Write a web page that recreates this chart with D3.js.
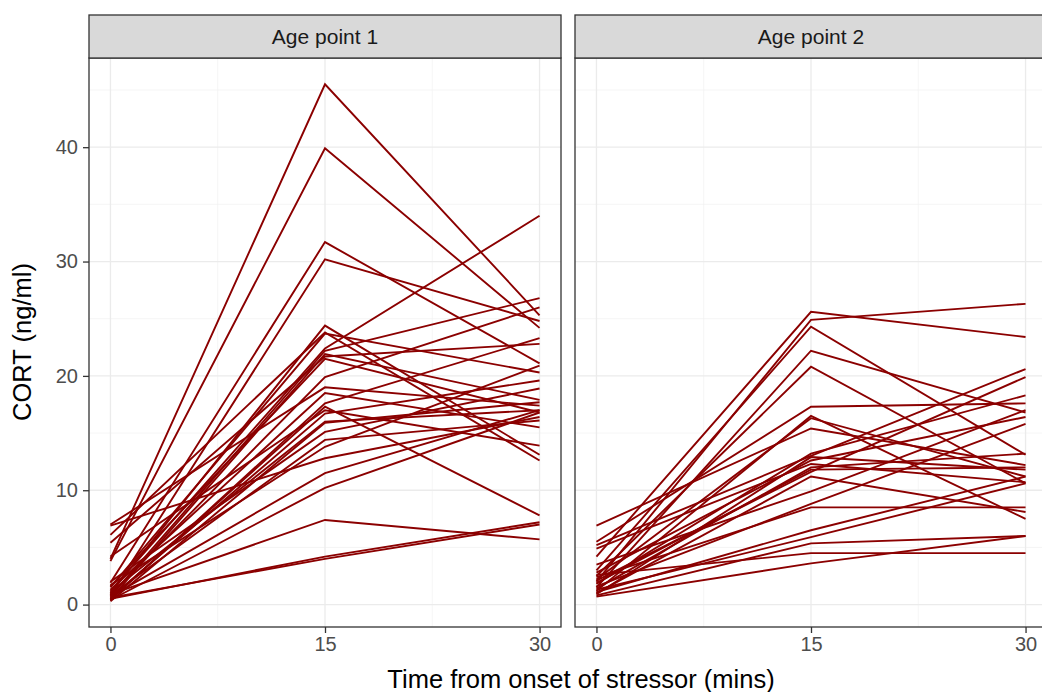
<!DOCTYPE html>
<html>
<head>
  <meta charset="utf-8">
  <title>CORT by age point</title>
  <style>
    body { margin: 0; background: #fff; }
    text { font-family: "Liberation Sans", Arial, sans-serif; }
    .grid-major { stroke: #ebebeb; stroke-width: 1.3; }
    .grid-minor { stroke: #f0f0f0; stroke-width: 0.7; }
  </style>
</head>
<body>
  <div id="chart-container"></div>

  <script src="https://d3js.org/d3.v7.min.js"></script>
  <script>
// sampling times (x) and facet labels
var times = [0, 15, 30];
var panelLabels = ["Age point 1", "Age point 2"];
var yTicks = [0, 10, 20, 30, 40];
var xTicks = [0, 15, 30];

// Age point 1: CORT at 0, 15, 30 mins (one entry per animal)
var age1_t0  = [4.0, 3.8, 1.9, 0.8, 1.0, 6.1, 1.5, 1.2, 0.7, 0.5, 5.4, 1.6, 0.9, 7.0, 1.3, 0.4, 4.2, 0.6, 1.1, 0.3, 2.0, 0.8, 1.7, 0.5, 0.7, 0.4, 0.9, 0.5, 0.6, 6.9];
var age1_t15 = [45.5, 39.9, 31.7, 30.2, 24.4, 23.8, 23.7, 22.4, 22.2, 21.9, 21.7, 21.5, 19.9, 19.0, 18.5, 17.6, 17.0, 16.7, 16.0, 15.9, 15.1, 14.4, 13.8, 17.3, 11.5, 10.2, 7.4, 4.2, 4.0, 12.8];
var age1_t30 = [25.3, 24.2, 21.1, 24.8, 13.1, 12.6, 20.3, 34.0, 26.8, 17.9, 22.8, 16.8, 26.0, 17.4, 15.5, 23.3, 13.9, 19.6, 17.0, 17.7, 18.9, 16.1, 20.9, 7.8, 17.0, 16.8, 5.7, 7.2, 7.0, 16.4];

// Age point 2
var age2_t0  = [4.2, 2.0, 3.0, 1.5, 2.5, 5.5, 1.2, 2.2, 6.9, 1.8, 0.9, 2.8, 4.9, 1.4, 2.1, 1.0, 3.5, 1.6, 2.4, 1.1, 1.3, 0.8, 0.7, 2.6, 5.2, 1.9];
var age2_t15 = [25.6, 24.9, 24.3, 22.2, 20.8, 17.3, 16.5, 16.3, 15.4, 13.2, 12.9, 12.6, 12.3, 12.0, 11.6, 11.2, 9.9, 8.8, 8.5, 6.5, 5.9, 5.35, 3.6, 4.5, 13.0, 11.8];
var age2_t30 = [23.4, 26.3, 13.1, 16.8, 10.6, 17.6, 7.5, 11.2, 12.2, 18.3, 11.8, 16.4, 10.7, 13.2, 19.9, 8.1, 17.0, 15.8, 8.5, 11.2, 10.6, 6.0, 6.0, 4.5, 20.6, 12.0];

var panelData = [[age1_t0, age1_t15, age1_t30], [age2_t0, age2_t15, age2_t30]];

var width = 1042, height = 692;
var panelTop = 58, panelBottom = 627;
var stripTop = 15;
var panelLeft = [89, 575];
var panelWidth = 472;

var svg = d3.select("#chart-container")
  .append("svg")
  .attr("width", width)
  .attr("height", height);

// shared y scale, ggplot style 5% expansion
var yScale = d3.scaleLinear()
  .domain([-1.96, 47.8])
  .range([panelBottom, panelTop]);

panelData.forEach(function(series, p) {
  var xScale = d3.scaleLinear()
    .domain([-1.5, 31.5])
    .range([panelLeft[p], panelLeft[p] + panelWidth]);

  var g = svg.append("g");

  g.append("clipPath").attr("id", "clip" + p)
    .append("rect")
    .attr("x", panelLeft[p]).attr("y", panelTop)
    .attr("width", panelWidth).attr("height", panelBottom - panelTop);

  var grid = g.append("g").attr("clip-path", "url(#clip" + p + ")");

  // minor grid
  [5, 15, 25, 35, 45].forEach(function(v) {
    grid.append("line").attr("class", "grid-minor")
      .attr("x1", panelLeft[p]).attr("x2", panelLeft[p] + panelWidth)
      .attr("y1", yScale(v)).attr("y2", yScale(v));
  });
  [7.5, 22.5].forEach(function(v) {
    grid.append("line").attr("class", "grid-minor")
      .attr("x1", xScale(v)).attr("x2", xScale(v))
      .attr("y1", panelTop).attr("y2", panelBottom);
  });
  // major grid
  yTicks.forEach(function(v) {
    grid.append("line").attr("class", "grid-major")
      .attr("x1", panelLeft[p]).attr("x2", panelLeft[p] + panelWidth)
      .attr("y1", yScale(v)).attr("y2", yScale(v));
  });
  xTicks.forEach(function(v) {
    grid.append("line").attr("class", "grid-major")
      .attr("x1", xScale(v)).attr("x2", xScale(v))
      .attr("y1", panelTop).attr("y2", panelBottom);
  });

  // one line per animal
  var rows = series[0].map(function(d, i) {
    return times.map(function(t, k) { return { t: t, v: series[k][i] }; });
  });

  var line = d3.line()
    .x(function(d) { return xScale(d.t); })
    .y(function(d) { return yScale(d.v); });

  grid.selectAll("path.subject")
    .data(rows)
    .enter()
    .append("path")
    .attr("class", "subject")
    .attr("d", line)
    .attr("fill", "none")
    .attr("stroke", "#8b0000")
    .attr("stroke-width", 1.9);

  // panel border
  g.append("rect")
    .attr("x", panelLeft[p]).attr("y", panelTop)
    .attr("width", panelWidth).attr("height", panelBottom - panelTop)
    .attr("fill", "none").attr("stroke", "#333").attr("stroke-width", 1.3);

  // strip
  g.append("rect")
    .attr("x", panelLeft[p]).attr("y", stripTop)
    .attr("width", panelWidth).attr("height", panelTop - stripTop)
    .attr("fill", "#d9d9d9").attr("stroke", "#333").attr("stroke-width", 1.3);
  g.append("text")
    .attr("x", panelLeft[p] + panelWidth / 2)
    .attr("y", (stripTop + panelTop) / 2 + 7.5)
    .attr("text-anchor", "middle")
    .attr("font-size", 21)
    .attr("fill", "#1a1a1a")
    .text(panelLabels[p]);

  // x axis
  var xAxis = d3.axisBottom(xScale).tickValues(xTicks).tickSize(6).tickPadding(4);
  var xa = g.append("g").attr("transform", "translate(0," + panelBottom + ")").call(xAxis);
  xa.select(".domain").remove();
  xa.selectAll("line").attr("stroke", "#333").attr("stroke-width", 1.3);
  xa.selectAll("text").attr("font-size", 20).attr("fill", "#4d4d4d")
    .attr("font-family", "Liberation Sans, Arial, sans-serif");

  if (p === 0) {
    var yAxis = d3.axisLeft(yScale).tickValues(yTicks).tickSize(6).tickPadding(5);
    var ya = g.append("g").attr("transform", "translate(" + panelLeft[p] + ",0)").call(yAxis);
    ya.select(".domain").remove();
    ya.selectAll("line").attr("stroke", "#333").attr("stroke-width", 1.3);
    ya.selectAll("text").attr("font-size", 20).attr("fill", "#4d4d4d")
      .attr("font-family", "Liberation Sans, Arial, sans-serif");
  }
});

// axis titles
svg.append("text")
  .attr("x", 581)
  .attr("y", 688)
  .attr("text-anchor", "middle")
  .attr("font-size", 25.5)
  .attr("fill", "#000")
  .text("Time from onset of stressor (mins)");

svg.append("text")
  .attr("transform", "translate(31,342) rotate(-90)")
  .attr("text-anchor", "middle")
  .attr("font-size", 25.5)
  .attr("fill", "#000")
  .text("CORT (ng/ml)");
  </script>
</body>
</html>
